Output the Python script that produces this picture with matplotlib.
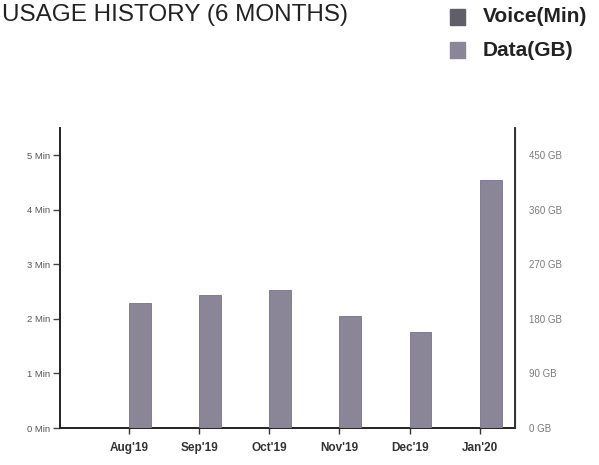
import numpy as np
import matplotlib.pyplot as plt
from matplotlib.patches import Rectangle

plt.rcParams['font.family'] = ['Liberation Sans', 'DejaVu Sans']

months = ["Aug'19", "Sep'19", "Oct'19", "Nov'19", "Dec'19", "Jan'20"]
voice_min = [0, 0, 0, 0, 0, 0]
data_gb = [207, 219, 227, 184, 158, 410]

min_ticks = [0, 1, 2, 3, 4, 5]
min_labels = ["0 Min", "1 Min", "2 Min", "3 Min", "4 Min", "5 Min"]
gb_ticks = [0, 90, 180, 270, 360, 450]
gb_labels = ["0 GB", "90 GB", "180 GB", "270 GB", "360 GB", "450 GB"]

voice_color = "#5f5e69"
data_color = "#8a8597"

W, H = 599, 465
fig = plt.figure(figsize=(W / 100, H / 100), dpi=100)

# main axes (minutes on the left, GB on the right)
ax = fig.add_axes([60 / W, 1 - 428 / H, (515 - 60) / W, 300 / H])
ax2 = ax.twinx()

x = np.arange(len(months))
bw = 0.31
ax.bar(x - bw, voice_min, width=bw, align='edge', color=voice_color)
ax2.bar(x, data_gb, width=bw, align='edge', color=data_color,
        edgecolor="#77728a", linewidth=0.6)

ax.set_xlim(-0.98, 5.5)
ax.set_ylim(0, 5.5)
ax2.set_ylim(0, 495)

ax.set_xticks(x)
ax.set_xticklabels(months, fontsize=8.5, fontweight='bold', color="#333333")
ax.tick_params(axis='x', length=4, width=1, color="#333333", pad=6)

ax.set_yticks(min_ticks)
ax.set_yticklabels(min_labels, fontsize=6.8, color="#555555")
ax.tick_params(axis='y', length=5, width=1, color="#444444", pad=2)

ax2.set_yticks(gb_ticks)
ax2.set_yticklabels(gb_labels, fontsize=7, color="#7a7a7a")
ax2.tick_params(axis='y', length=0, pad=10)

for a in (ax, ax2):
    a.spines['top'].set_visible(False)
ax.spines['left'].set_linewidth(1.4)
ax.spines['left'].set_color("#222222")
ax.spines['bottom'].set_linewidth(1.4)
ax.spines['bottom'].set_color("#222222")
ax2.spines['right'].set_linewidth(1.4)
ax2.spines['right'].set_color("#333333")
ax2.spines['left'].set_visible(False)
ax2.spines['bottom'].set_visible(False)

# title in the top-left corner
fig.text(2 / W, 1 - 21 / H, "USAGE HISTORY (6 MONTHS)", fontsize=17.5,
         color="#222222", va='baseline', ha='left')

# legend
for i, (lab, col) in enumerate([("Voice(Min)", voice_color), ("Data(GB)", data_color)]):
    cy = 17 + i * 33
    fig.patches.append(Rectangle((450 / W, 1 - (cy + 8) / H), 15 / W, 16 / H,
                                 transform=fig.transFigure, color=col))
    fig.text(483 / W, 1 - cy / H, lab, fontsize=15, fontweight='bold',
             color="#222222", va='center', ha='left')

fig.savefig("out.png", dpi=100)
